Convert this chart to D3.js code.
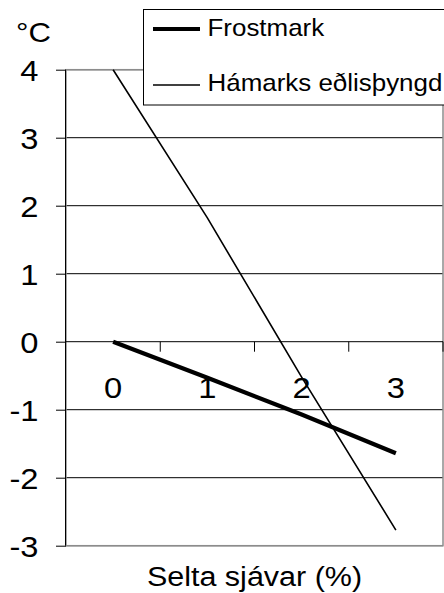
<!DOCTYPE html>
<html>
<head>
<meta charset="utf-8">
<script src="https://cdn.jsdelivr.net/npm/d3@7/dist/d3.min.js"></script>
<style>
  html, body { margin: 0; padding: 0; background: #fff; }
  svg { display: block; font-family: "Liberation Sans", Arial, sans-serif; }
</style>
</head>
<body>
<svg id="chart" width="444" height="593"></svg>
<script>
// Salinity categories (%) and temperatures (°C)
const categories = ["0", "1", "2", "3"];
const frostmark = [0, -0.53, -1.07, -1.64];          // freezing point
const hamarksEdlis = [4, 1.82, -0.52, -2.77];        // temperature of maximum density
const yTicks = [4, 3, 2, 1, 0, -1, -2, -3];
const seriesNames = ["Frostmark", "Hámarks eðlisþyngd"];

const svg = d3.select("#chart");
const stretch = 1.09; // glyphs are drawn slightly wide

const plot = { left: 66, right: 443, top: 69.7, bottom: 545.7 };

const x = d3.scaleBand().domain(categories).range([plot.left, plot.right]).padding(0);
const y = d3.scaleLinear().domain([-3, 4]).range([plot.bottom, plot.top]);

function label(g, tx, ty, text, size, anchor) {
  return g.append("text")
    .attr("transform", `translate(${tx},${ty}) scale(${stretch},1)`)
    .attr("text-anchor", anchor || "start")
    .attr("font-size", size)
    .attr("fill", "#000")
    .text(text);
}

// horizontal gridlines
svg.append("g")
  .selectAll("line")
  .data(yTicks.filter(d => d !== 0))
  .join("line")
  .attr("x1", plot.left).attr("x2", plot.right)
  .attr("y1", d => y(d)).attr("y2", d => y(d))
  .attr("stroke", "#000").attr("stroke-width", 1);

// plot area border
svg.append("rect")
  .attr("x", plot.left).attr("y", plot.top)
  .attr("width", plot.right - plot.left).attr("height", plot.bottom - plot.top)
  .attr("fill", "none").attr("stroke", "#8c8c8c").attr("stroke-width", 1.5);

// y axis
const yAxis = d3.axisLeft(y).tickValues(yTicks).tickSize(10).tickFormat("");
const yg = svg.append("g").attr("transform", `translate(${plot.left},0)`).call(yAxis);
yg.select(".domain").attr("stroke", "#000").attr("d", `M-0.5,${plot.top}V${plot.bottom}`);
yg.selectAll(".tick line").attr("stroke", "#000");
yTicks.forEach(t => label(svg, 38.5, y(t) + 10.8, String(t), 30, "end"));

// x axis along zero
const xAxis = d3.axisBottom(x).tickSize(0).tickFormat("");
const xg = svg.append("g").attr("transform", `translate(0,${y(0)})`).call(xAxis);
xg.select(".domain").attr("stroke", "#000").attr("d", `M${plot.left},0H${plot.right}`);
xg.append("g").selectAll("line")
  .data(categories)
  .join("line")
  .attr("x1", d => x(d) + x.bandwidth()).attr("x2", d => x(d) + x.bandwidth())
  .attr("y1", 0).attr("y2", 10)
  .attr("stroke", "#000");
categories.forEach(c => label(svg, x(c) + x.bandwidth() / 2, y(0) + 56.5, c, 30, "middle"));

// series lines
const line = d3.line()
  .x((d, i) => x(categories[i]) + x.bandwidth() / 2)
  .y(d => y(d));

svg.append("path").datum(hamarksEdlis)
  .attr("d", line).attr("fill", "none")
  .attr("stroke", "#000").attr("stroke-width", 1.6);

svg.append("path").datum(frostmark)
  .attr("d", line).attr("fill", "none")
  .attr("stroke", "#000").attr("stroke-width", 4.2);

// unit label
label(svg, 33.5, 42, "°C", 28.5, "middle");

// axis title
label(svg, 254.5, 586, "Selta sjávar (%)", 28, "middle");

// legend
const lg = svg.append("g");
lg.append("rect")
  .attr("x", 143.5).attr("y", 9.5).attr("width", 330).attr("height", 95.5)
  .attr("fill", "#fff").attr("stroke", "#000").attr("stroke-width", 1);
const legendRows = [
  { name: seriesNames[0], width: 4.2, ly: 29, base: 35.7 },
  { name: seriesNames[1], width: 1.6, ly: 85, base: 90.7 }
];
legendRows.forEach(r => {
  lg.append("line")
    .attr("x1", 153).attr("x2", 200).attr("y1", r.ly).attr("y2", r.ly)
    .attr("stroke", "#000").attr("stroke-width", r.width);
  label(lg, 207.5, r.base, r.name, 23.8, "start");
});
</script>
</body>
</html>
